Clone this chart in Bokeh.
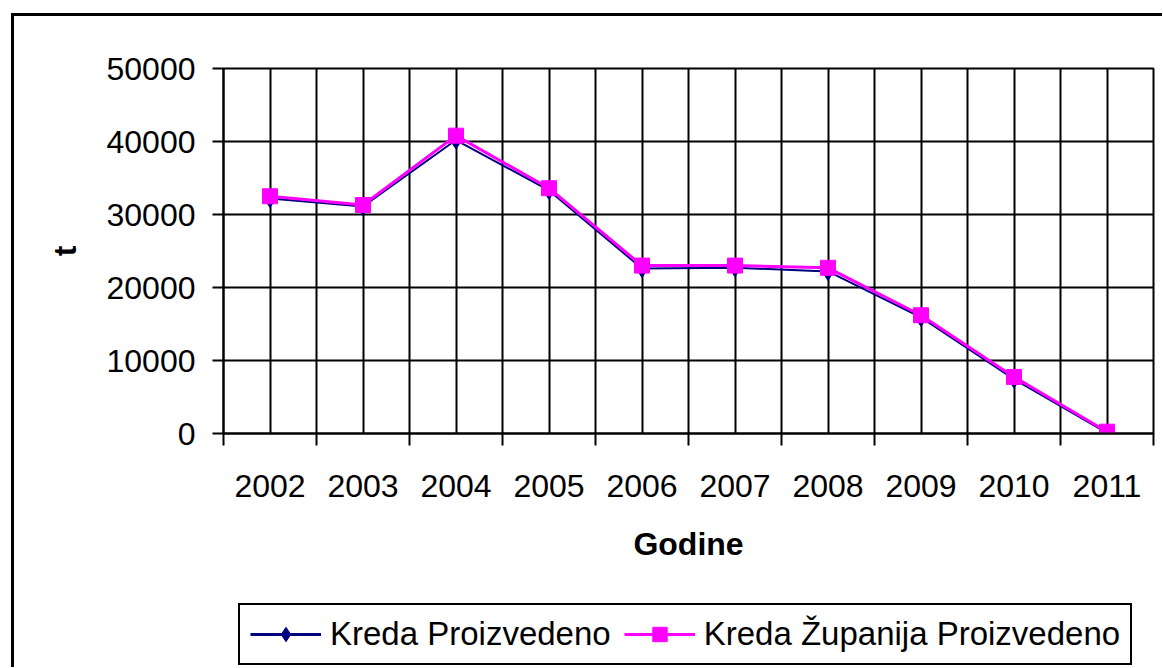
from bokeh.plotting import figure
from bokeh.layouts import column
from bokeh.models import FixedTicker, Legend, LegendItem
from bokeh.embed import file_html
from bokeh.resources import INLINE

years = ["2002", "2003", "2004", "2005", "2006", "2007", "2008", "2009", "2010", "2011"]
kreda = [32200, 31100, 40200, 33300, 22600, 22700, 22200, 15900, 7450, 100]
kreda_zupanija = [32500, 31300, 40800, 33600, 23000, 23000, 22700, 16200, 7750, 250]
y_ticks = [0, 10000, 20000, 30000, 40000, 50000]
series_names = ["Kreda Proizvedeno", "Kreda Županija Proizvedeno"]

n = len(years)
x_pos = [i + 0.5 for i in range(n)]
FONT = "Liberation Sans"
BLUE = "#000080"
PINK = "#FF00FF"

p = figure(width=1148, height=548, x_range=(0, n), y_range=(0, 50000),
           output_backend="svg", toolbar_location=None,
           min_border_left=209, min_border_right=9, min_border_top=52,
           min_border_bottom=130,
           background_fill_color="white", border_fill_color="white")

p.outline_line_color = "black"
p.outline_line_width = 2

# grids
p.xgrid.ticker = FixedTicker(ticks=[i * 0.5 for i in range(2 * n + 1)])
p.xgrid.grid_line_color = "black"
p.xgrid.grid_line_width = 2
p.ygrid.ticker = FixedTicker(ticks=y_ticks)
p.ygrid.grid_line_color = "black"
p.ygrid.grid_line_width = 2

# x axis
xa = p.xaxis[0]
xa.ticker = FixedTicker(ticks=x_pos, minor_ticks=list(range(n + 1)))
xa.major_label_overrides = {x: y for x, y in zip(x_pos, years)}
xa.major_tick_out = 0
xa.major_tick_in = 0
xa.minor_tick_out = 12
xa.minor_tick_in = 0
xa.minor_tick_line_color = "black"
xa.minor_tick_line_width = 2
xa.axis_line_color = "black"
xa.axis_line_width = 2
xa.major_label_text_font = FONT
xa.major_label_text_font_size = "32px"
xa.major_label_text_color = "black"
xa.major_label_standoff = 29
xa.axis_label = "Godine"
xa.axis_label_text_font = FONT
xa.axis_label_text_font_size = "32px"
xa.axis_label_text_font_style = "bold"
xa.axis_label_text_color = "black"
xa.axis_label_standoff = 26

# y axis
ya = p.yaxis[0]
ya.ticker = FixedTicker(ticks=y_ticks)
ya.major_tick_out = 11
ya.major_tick_in = 0
ya.major_tick_line_color = "black"
ya.major_tick_line_width = 2
ya.minor_tick_out = 0
ya.minor_tick_in = 0
ya.axis_line_color = "black"
ya.axis_line_width = 2
ya.major_label_text_font = FONT
ya.major_label_text_font_size = "32px"
ya.major_label_text_color = "black"
ya.major_label_standoff = 17
ya.axis_label = "t"
ya.axis_label_text_font = FONT
ya.axis_label_text_font_size = "32px"
ya.axis_label_text_font_style = "bold"
ya.axis_label_text_color = "black"
ya.axis_label_standoff = 21

# series
p.line(x_pos, kreda, line_color=BLUE, line_width=2)
p.scatter(x_pos, kreda, marker="diamond", size=18, fill_color=BLUE, line_color=BLUE)
p.line(x_pos, kreda_zupanija, line_color=PINK, line_width=3)
p.scatter(x_pos, kreda_zupanija, marker="square", size=15, fill_color=PINK, line_color=PINK)

# legend strip (separate figure below the chart); sample renderers sit outside its range
p2 = figure(width=1148, height=103, x_range=(0, 1), y_range=(0, 1),
            x_axis_type=None, y_axis_type=None, output_backend="svg",
            toolbar_location=None, min_border=0, outline_line_color=None,
            background_fill_color="white", border_fill_color="white")
p2.xgrid.visible = False
p2.ygrid.visible = False
dl1 = p2.line([-5, -4], [-5, -4], line_color=BLUE, line_width=3)
ds1 = p2.scatter([-5], [-5], marker="diamond", size=18, fill_color=BLUE, line_color=BLUE)
dl2 = p2.line([-5, -4], [-5, -4], line_color=PINK, line_width=3)
ds2 = p2.scatter([-5], [-5], marker="square", size=15, fill_color=PINK, line_color=PINK)

legend = Legend(items=[LegendItem(label=series_names[0], renderers=[dl1, ds1]),
                       LegendItem(label=series_names[1], renderers=[dl2, ds2])],
                orientation="horizontal", location=(15, 2))
legend.label_text_font = FONT
legend.label_text_font_size = "33px"
legend.label_text_color = "black"
legend.glyph_width = 71
legend.glyph_height = 36
legend.label_standoff = 9
legend.spacing = 13
legend.padding = 10
legend.margin = 0
legend.border_line_color = "black"
legend.border_line_alpha = 1
legend.border_line_width = 2
legend.background_fill_color = "white"
legend.background_fill_alpha = 1
p2.add_layout(legend, "center")

layout = column(p, p2, spacing=0,
                styles={"border-left": "3px solid black",
                        "border-top": "3px solid black",
                        "position": "relative", "left": "11px", "top": "13px"})

open("out.html", "w").write(file_html(layout, INLINE))
